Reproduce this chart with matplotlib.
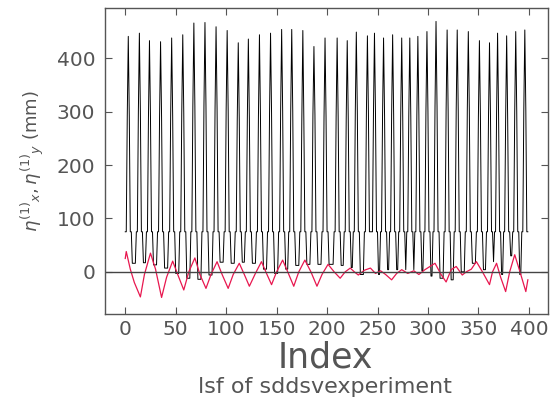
import numpy as np
import matplotlib
matplotlib.use("Agg")
import matplotlib.pyplot as plt

# ---- data ----
spike_idx = [3, 14, 24, 35, 46, 57, 68, 79, 90, 101, 112, 122, 133, 144, 155, 165, 176, 187, 198, 210,
             220, 229, 240, 247, 256, 265, 274, 282, 290, 299, 308, 319, 329, 340, 351, 361, 369, 378, 387, 396]
spike_top = [441, 447, 433, 431, 438, 444, 466, 467, 459, 452, 429, 436, 444, 447, 454, 454, 452, 422, 438, 438,
             433, 449, 442, 447, 438, 444, 438, 438, 441, 450, 469, 453, 453, 450, 433, 429, 447, 442, 450, 453]
spike_mid = [292, 300, 290, 290, 292, 297, 310, 311, 306, 303, 285, 288, 292, 297, 303, 302, 285, 294, 291, 291,
             288, 300, 297, 297, 292, 294, 291, 291, 294, 300, 310, 303, 303, 303, 291, 288, 294, 288, 300, 303]
shoulder = 75
gap_base = [-5, 16, 17, 13, 7, -3, -12, -14, -6, 18, 16, 18, 16, 5, -3, 5, 12, 14, 14, 14,
            12, 8, -5, -3, -5, 4, 4, 4, 4, 2, -8, -12, -15, 0, 16, 4, 19, -5, 30, -5, -5]
n_index = 400

red_idx = [0, 1, 5, 9, 15, 19, 25, 30, 36, 41, 47, 52, 58, 63, 69, 74, 80, 85, 91, 96, 102, 107, 113, 118,
           123, 129, 135, 140, 145, 150, 156, 161, 167, 172, 178, 184, 190, 195, 201, 207, 213, 218, 223, 227,
           231, 237, 243, 248, 253, 258, 264, 269, 274, 280, 286, 291, 297, 302, 307, 313, 318, 323, 328, 334,
           338, 343, 348, 354, 361, 364, 368, 372, 377, 381, 386, 392, 397, 399]
red_val = [25, 38, 5, -20, -47, -5, 35, 5, -48, -10, 20, -5, -34, 0, 26, -5, -31, -5, 19, -5, -31, -5, 16, -5,
           -27, -3, 19, -3, -24, 0, 22, 0, -27, 0, 22, 0, -27, -5, 14, 0, -12, 0, 7, 0,
           -6, 3, 7, -3, 2, -5, -15, -3, 4, -3, 2, -5, 4, 10, 16, -5, -19, 4, 10, -6,
           0, 5, 19, 0, -24, 0, 16, -10, -37, 0, 32, -5, -37, -15]

xticks = [0, 50, 100, 150, 200, 250, 300, 350, 400]
yticks = [0, 100, 200, 300, 400]

# ---- assemble black series from sector pattern ----
black = np.empty(n_index)
bounds = [-1] + spike_idx + [n_index + 10]
for g in range(len(gap_base)):
    lo, hi = bounds[g], bounds[g + 1]
    for i in range(max(lo, 0), min(hi, n_index)):
        black[i] = gap_base[g]
for s, top, mid in zip(spike_idx, spike_top, spike_mid):
    pattern = {-3: shoulder, -2: shoulder, -1: mid, 0: top, 1: mid, 2: shoulder, 3: shoulder}
    for off, v in pattern.items():
        if 0 <= s + off < n_index:
            black[s + off] = v
index = np.arange(n_index)

fig = plt.figure(figsize=(5.53, 4.07), dpi=100)
ax = fig.add_axes([0.190, 0.2285, 0.801, 0.753])
ax.plot(index, black, color="black", lw=0.7)
ax.plot(red_idx, red_val, color="#e8174f", lw=0.9)
ax.axhline(0, color="#444444", lw=1.0)
ax.set_xlim(-20, 419)
ax.set_ylim(-79, 495)
ax.set_xticks(xticks)
ax.set_yticks(yticks)
gray = "#555555"
for sp in ax.spines.values():
    sp.set_color(gray)
    sp.set_linewidth(1.0)
ax.tick_params(direction="in", top=True, right=True, length=5, width=0.8, color=gray,
               labelsize=14.5, labelcolor=gray)
ax.tick_params(axis="x", pad=4)
ax.tick_params(axis="y", pad=7)
ax.set_ylabel(r"$\eta^{(1)}{}_{x}, \eta^{(1)}{}_{y}$ (mm)", fontsize=13, color=gray, labelpad=8)
fig.text(0.588, 0.098, "Index", fontsize=25, color=gray, ha="center", va="baseline")
fig.text(0.588, 0.034, "lsf of sddsvexperiment", fontsize=16, color=gray, ha="center", va="baseline")
fig.savefig("out.png", dpi=100)
